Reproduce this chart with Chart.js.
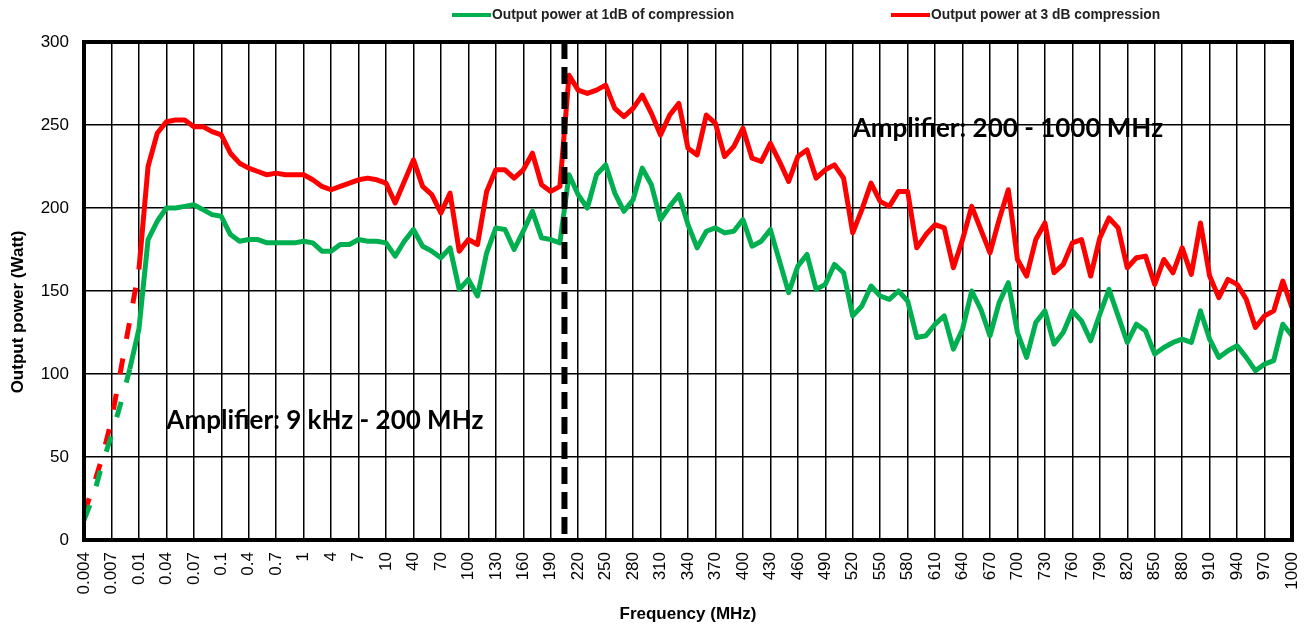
<!DOCTYPE html>
<html>
<head>
<meta charset="utf-8">
<script src="https://cdn.jsdelivr.net/npm/chart.js@4/dist/chart.umd.min.js"></script>
<style>
  html, body { margin: 0; padding: 0; background: #fff; }
  #wrap { width: 1306px; height: 629px; position: relative; }
</style>
</head>
<body>
<div id="wrap"><canvas id="powerChart"></canvas></div>
<script>
// Frequencies in MHz (one point per category)
const freqs = [
  "0.004", "0.005", "0.006", "0.007", "0.008", "0.009",
  "0.01", "0.02", "0.03", "0.04", "0.05", "0.06", "0.07", "0.08", "0.09",
  "0.1", "0.2", "0.3", "0.4", "0.5", "0.6", "0.7", "0.8", "0.9",
  "1", "2", "3", "4", "5", "6", "7", "8", "9",
  "10", "20", "30", "40", "50", "60", "70", "80", "90",
  "100", "110", "120", "130", "140", "150", "160", "170", "180", "190",
  "200", "210", "220", "230", "240", "250", "260", "270", "280", "290",
  "300", "310", "320", "330", "340", "350", "360", "370", "380", "390",
  "400", "410", "420", "430", "440", "450", "460", "470", "480", "490",
  "500", "510", "520", "530", "540", "550", "560", "570", "580", "590",
  "600", "610", "620", "630", "640", "650", "660", "670", "680", "690",
  "700", "710", "720", "730", "740", "750", "760", "770", "780", "790",
  "800", "810", "820", "830", "840", "850", "860", "870", "880", "890",
  "900", "910", "920", "930", "940", "950", "960", "970", "980", "990",
  "1000"
];

// Labels that are actually printed on the x axis
const tickLabels = [
  "0.004", "0.007", "0.01", "0.04", "0.07", "0.1", "0.4", "0.7", "1", "4", "7",
  "10", "40", "70", "100", "130", "160", "190", "220", "250", "280", "310",
  "340", "370", "400", "430", "460", "490", "520", "550", "580", "610", "640",
  "670", "700", "730", "760", "790", "820", "850", "880", "910", "940", "970", "1000"
];

// Output power at 1 dB compression (Watt)
const p1dB = [
  12, 26, 46, 63, 82, 103, 127, 181, 192, 200, 200, 201, 202, 199, 196, 195, 184, 180, 181, 181, 179, 179, 179, 179, 180,
  179, 174, 174, 178, 178, 181, 180, 180, 179, 171, 180, 187, 177, 174, 170, 176, 151, 157, 147, 173, 188, 187, 175, 186, 198, 182, 181, 179,
  220, 208, 200, 220, 226, 209, 198, 205, 224, 214, 193, 201, 208, 190, 176, 186, 188, 185, 186, 193, 177, 180, 187, 168, 149, 165,
  172, 151, 154, 166, 161, 135, 141, 153, 147, 145, 150, 144, 122, 123, 130, 135, 115, 127, 150, 139, 123, 143, 155, 125, 110, 131, 138,
  118, 125, 138, 132, 120, 136, 151, 135, 119, 130, 126, 112, 116, 119, 121, 119, 138, 121, 110, 114, 117, 110, 102, 106, 108, 130, 123
];

// Output power at 3 dB compression (Watt)
const p3dB = [
  16, 32, 50, 72, 102, 132, 163, 225, 245, 252, 253, 253, 249, 249, 246, 244, 233, 227, 224, 222, 220, 221, 220, 220, 220,
  217, 213, 211, 213, 215, 217, 218, 217, 215, 203, 216, 229, 213, 208, 197, 209, 174, 181, 178, 210, 223, 223, 218, 223, 233, 214, 210, 213,
  280, 271, 269, 271, 274, 260, 255, 260, 268, 257, 244, 256, 263, 236, 232, 256, 251, 231, 237, 248, 230, 228, 239, 228, 216, 231,
  235, 218, 223, 226, 218, 185, 199, 215, 204, 201, 210, 210, 176, 184, 190, 188, 164, 181, 201, 187, 173, 193, 211, 169, 159, 181, 191,
  161, 166, 179, 181, 159, 182, 194, 188, 164, 170, 171, 154, 169, 161, 176, 160, 191, 159, 146, 157, 154, 145, 128, 135, 138, 156, 140
];

const seriesNames = ["Output power at 1dB of compression", "Output power at 3 dB compression"];
const noteTexts = ["Amplifier: 9 kHz - 200 MHz", "Amplifier: 200 - 1000 MHz"];

const FONT = "'Liberation Sans', Arial, sans-serif";
const GREEN = "#00b050";
const RED = "#ff0000";

// legend, notes, split line and frame drawn by hand
const extras = {
    id: "extras",
    afterDatasetsDraw(chart) {
        const { ctx, chartArea: a, scales: { x } } = chart;
        const i = freqs.indexOf("200");
        const sx = (x.getPixelForValue(i) + x.getPixelForValue(i + 1)) / 2;
        ctx.save();
        ctx.strokeStyle = "#000";
        ctx.lineWidth = 6;
        ctx.setLineDash([17, 8]);
        ctx.beginPath();
        ctx.moveTo(sx, a.top);
        ctx.lineTo(sx, a.bottom);
        ctx.stroke();
        ctx.setLineDash([]);
        ctx.lineWidth = 4;
        ctx.strokeRect(a.left, a.top, a.right - a.left, a.bottom - a.top);
        ctx.restore();
    },
    afterDraw(chart) {
        const { ctx, scales: { x, y } } = chart;
        ctx.save();
        ctx.fillStyle = "#000";

        // annotations
        ctx.font = "bold 26px Lato, sans-serif";
        ctx.textAlign = "left";
        ctx.textBaseline = "middle";
        ctx.fillText(noteTexts[0], x.getPixelForValue(freqs.indexOf("0.04")), y.getPixelForValue(72));
        ctx.fillText(noteTexts[1], x.getPixelForValue(freqs.indexOf("520")), y.getPixelForValue(248));

        // legend
        const items = [
            { color: GREEN, x0: 452, text: seriesNames[0] },
            { color: RED, x0: 891, text: seriesNames[1] }
        ];
        ctx.font = "bold 13.8px " + FONT;
        items.forEach((it) => {
            ctx.strokeStyle = it.color;
            ctx.lineWidth = 4;
            ctx.beginPath();
            ctx.moveTo(it.x0, 15);
            ctx.lineTo(it.x0 + 39, 15);
            ctx.stroke();
            ctx.fillStyle = "#222";
            ctx.fillText(it.text, it.x0 + 40, 15);
        });

        // y axis title (sits a bit below centre in the original)
        ctx.fillStyle = "#000";
        ctx.font = "bold 17px " + FONT;
        ctx.textAlign = "center";
        ctx.translate(18, 312);
        ctx.rotate(-Math.PI / 2);
        ctx.fillText("Output power (Watt)", 0, 0);
        ctx.restore();
    }
};

const ctx = document.getElementById("powerChart").getContext("2d");

new Chart(ctx, {
    type: "line",
    data: {
        labels: freqs,
        datasets: [
            {
                label: seriesNames[0],
                data: p1dB,
                borderColor: GREEN,
                backgroundColor: GREEN,
                borderWidth: 5,
                pointRadius: 0,
                tension: 0,
                borderJoinStyle: "round",
                segment: { borderDash: (c) => (c.p0DataIndex < 5 ? [16, 20] : undefined) }
            },
            {
                label: seriesNames[1],
                data: p3dB,
                borderColor: RED,
                backgroundColor: RED,
                borderWidth: 5,
                pointRadius: 0,
                tension: 0,
                borderJoinStyle: "round",
                segment: { borderDash: (c) => (c.p0DataIndex < 6 ? [16, 20] : undefined) }
            }
        ]
    },
    options: {
        responsive: true,
        maintainAspectRatio: false,
        animation: false,
        layout: { padding: { top: 42, right: 14, bottom: 0, left: 0 } },
        plugins: {
            legend: { display: false },
            tooltip: { enabled: false }
        },
        scales: {
            x: {
                grid: {
                    color: (c) => (tickLabels.includes(freqs[c.index]) ? "#000" : "rgba(0,0,0,0)"),
                    lineWidth: 1.5,
                    drawTicks: false
                },
                border: { display: false },
                ticks: {
                    autoSkip: false,
                    minRotation: 90,
                    maxRotation: 90,
                    padding: 12,
                    color: "#000",
                    font: { family: FONT, size: 17 },
                    callback: (v, i) => (tickLabels.includes(freqs[i]) ? freqs[i] : "")
                },
                title: {
                    display: true,
                    text: "Frequency (MHz)",
                    color: "#000",
                    font: { family: FONT, size: 17, weight: "bold" },
                    padding: { top: 0, bottom: 4 }
                },
                afterFit: (s) => {
                    s.height = 89;
                    // keep the rotated end labels from shrinking the plot
                    s.paddingLeft = 0;
                    s.paddingRight = 0;
                }
            },
            y: {
                min: 0,
                max: 300,
                grid: { color: "#000", lineWidth: 1.5, drawTicks: false },
                border: { display: false },
                ticks: {
                    stepSize: 50,
                    padding: 15,
                    color: "#000",
                    font: { family: FONT, size: 17 }
                },
                afterFit: (s) => { s.width = 84; }
            }
        }
    },
    plugins: [extras]
});
</script>
</body>
</html>
